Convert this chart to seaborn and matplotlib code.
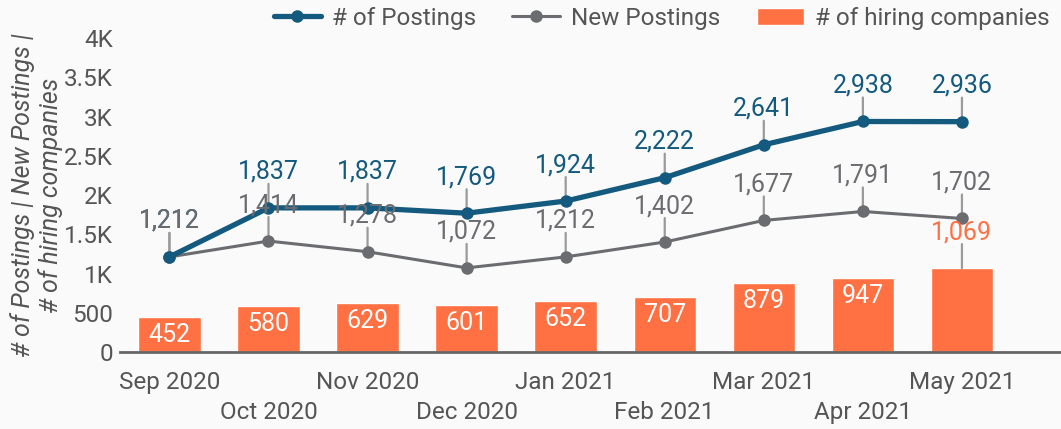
import numpy as np
import pandas as pd
import matplotlib.pyplot as plt
import seaborn as sns

months = ["Sep 2020", "Oct 2020", "Nov 2020", "Dec 2020", "Jan 2021",
          "Feb 2021", "Mar 2021", "Apr 2021", "May 2021"]
postings = [1212, 1837, 1837, 1769, 1924, 2222, 2641, 2938, 2936]
new_postings = [1212, 1414, 1278, 1072, 1212, 1402, 1677, 1791, 1702]
companies = [452, 580, 629, 601, 652, 707, 879, 947, 1069]

BLUE = "#145a7f"
GRAY = "#6b6c70"
ORANGE = "#ff7043"
LEAD = "#9a9a9a"
BG = "#fafafa"
TXT = "#555555"

df = pd.DataFrame({"idx": np.arange(len(months)), "month": months,
                   "postings": postings, "new": new_postings,
                   "companies": companies})

sns.set_theme(style="white")
plt.rcParams["font.family"] = ["Roboto", "DejaVu Sans"]

fig = plt.figure(figsize=(10.61, 4.29), dpi=100, facecolor=BG)
ax = fig.add_axes([0.113, 0.1795, 0.887, 0.7315], facecolor=BG)

sns.barplot(data=df, x="idx", y="companies", color=ORANGE, width=0.63,
            saturation=1, ax=ax, label="# of hiring companies", zorder=1)
sns.lineplot(data=df, x="idx", y="new", color=GRAY, lw=2.2, marker="o",
             markersize=9, markeredgewidth=0, ax=ax, label="New Postings",
             zorder=3)
sns.lineplot(data=df, x="idx", y="postings", color=BLUE, lw=3.8, marker="o",
             markersize=9, markeredgewidth=0, ax=ax, label="# of Postings",
             zorder=4)

# leader lines + labels
def lead_label(x, y, txt, color):
    ax.annotate("", xy=(x, y), xytext=(0, 24), textcoords="offset pixels",
                arrowprops=dict(arrowstyle="-", color=LEAD, lw=1.6,
                                shrinkA=0, shrinkB=0), zorder=2)
    ax.annotate(txt, xy=(x, y), xytext=(0, 36), textcoords="offset pixels",
                ha="center", va="center", fontsize=18, color=color,
                zorder=6)

for i in range(len(months)):
    lead_label(i, postings[i], f"{postings[i]:,}", BLUE)
for i in range(len(months)):
    lead_label(i, new_postings[i], f"{new_postings[i]:,}", GRAY)
for i in range(len(months)):
    if i == len(months) - 1:
        lead_label(i, companies[i], f"{companies[i]:,}", ORANGE)
    else:
        ax.annotate(f"{companies[i]:,}", xy=(i, companies[i]), xytext=(0, -18),
                    textcoords="offset pixels", ha="center", va="center",
                    fontsize=18, color="white", zorder=6)

ax.set_xlim(-0.5, 9.0)
ax.set_ylim(0, 4000)
ax.set_yticks(np.arange(0, 4001, 500))
ax.set_yticklabels(["0", "500", "1K", "1.5K", "2K", "2.5K", "3K", "3.5K", "4K"],
                   fontsize=17.5, color=TXT)
ax.set_xticks(range(len(months)))
ax.set_xticklabels([m if i % 2 == 0 else "\n" + m for i, m in enumerate(months)],
                   fontsize=17.5, color=TXT, linespacing=1.35)
ax.tick_params(axis="x", length=0, pad=14)
ax.tick_params(axis="y", length=0, pad=5)
ax.set_xlabel("")
ax.set_ylabel("# of Postings | New Postings |\n# of hiring companies",
              fontsize=18, style="italic", color=TXT, labelpad=1,
              linespacing=1.15)
for s in ["top", "right", "left"]:
    ax.spines[s].set_visible(False)
ax.spines["bottom"].set_color("#666666")
ax.spines["bottom"].set_linewidth(2)

h, l = ax.get_legend_handles_labels()
order = [l.index("# of Postings"), l.index("New Postings"),
         l.index("# of hiring companies")]
ax.legend_.remove()
fig.legend([h[k] for k in order], [l[k] for k in order], loc="upper center",
           bbox_to_anchor=(0.6235, 1.035), ncol=3, frameon=False, fontsize=17.5,
           handlelength=1.95, handletextpad=0.45, columnspacing=1.5,
           labelcolor=TXT)

fig.savefig("out.png", dpi=100, facecolor=BG)
